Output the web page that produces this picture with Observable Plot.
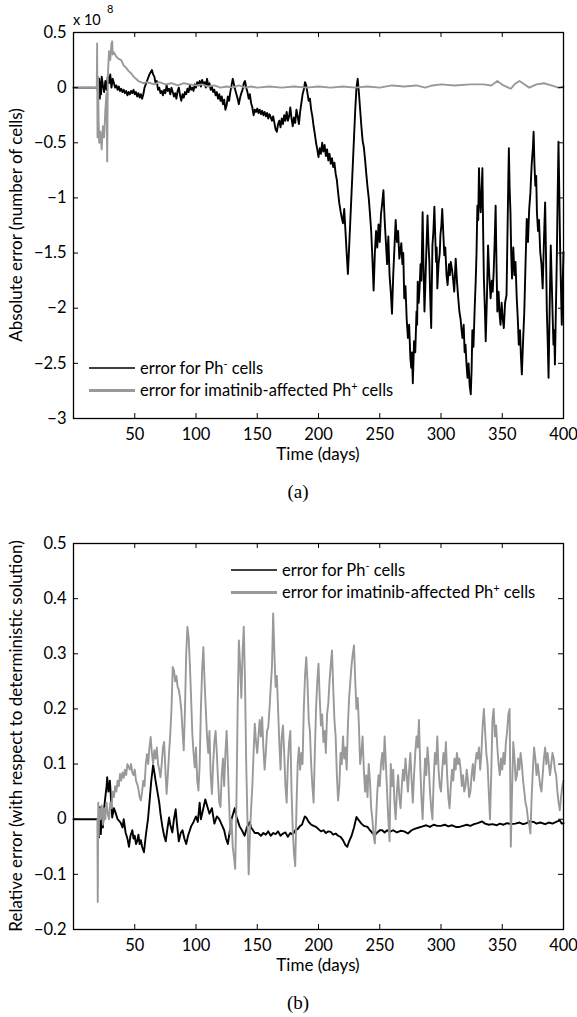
<!DOCTYPE html>
<html><head><meta charset="utf-8">
<script src="https://cdn.jsdelivr.net/npm/d3@7"></script>
<script src="https://cdn.jsdelivr.net/npm/@observablehq/plot@0.6"></script>
<style>
body{margin:0;background:#fff;}
#wrap{position:relative;width:577px;height:1017px;font-family:Lato,sans-serif;background:#fff;}
.panel{position:absolute;left:0;}
.cap{position:absolute;font-family:"Liberation Serif",serif;font-size:19px;transform:translate(-50%,-50%);color:#000;}
</style></head><body><div id="wrap"></div>
<script>
// ---------- data ----------
const xTicks = [50,100,150,200,250,300,350,400];
const yTicksA = [0.5,0,-0.5,-1,-1.5,-2,-2.5,-3];
const yTicksB = [0.5,0.4,0.3,0.2,0.1,0,-0.1,-0.2];

// Panel (a): absolute error, units of 1e8 cells
const absPhMinus = [[0,0],[19.5,0],[20.5,-0.08],[21,0.08],[21.5,-0.1],[22,0.05],[22.5,-0.06],[23,0.1],[24,0.02],[25,-0.04],[26,0.06],[27,-0.02],[28,0.1],[29,0.04],[30,0.12],[31,0.0],[32,0.08],[33,0.04],[34,0.0],[35,0.02],[36,-0.02],[37,0.01],[38,-0.03],[39,-0.01],[40,-0.04],[41,-0.02],[42,-0.05],[43,-0.03],[44,-0.07],[45,-0.04],[46,-0.06],[47,-0.03],[48,-0.05],[49,-0.02],[50,-0.06],[51,-0.04],[52,-0.08],[53,-0.05],[54,-0.09],[55,-0.06],[56,-0.1],[57,-0.06],[58,0.0],[60,0.06],[62,0.12],[64,0.16],[65,0.12],[66,0.1],[67,0.04],[68,0.06],[69,-0.02],[70,0.0],[71,-0.05],[72,-0.03],[73,-0.07],[74,-0.02],[75,-0.05],[76,0.02],[77,-0.03],[78,-0.01],[79,-0.06],[80,0.0],[81,-0.04],[82,-0.08],[83,-0.05],[84,-0.1],[85,-0.03],[86,0.0],[87,-0.07],[88,-0.12],[89,-0.06],[90,-0.09],[91,-0.04],[92,-0.06],[93,-0.01],[94,-0.04],[95,0.02],[96,-0.02],[97,0.0],[98,-0.03],[99,0.03],[100,0.0],[101,0.05],[102,0.02],[103,0.06],[104,0.01],[105,0.07],[106,0.03],[107,0.05],[108,0.0],[109,0.08],[110,0.02],[111,0.04],[112,-0.02],[113,0.01],[114,-0.04],[115,-0.02],[116,-0.07],[117,-0.04],[118,-0.1],[119,-0.06],[120,-0.12],[121,-0.08],[122,-0.15],[123,-0.11],[124,-0.2],[125,-0.16],[126,-0.08],[127,-0.12],[128,-0.04],[129,0.02],[130,0.08],[131,0.03],[132,-0.02],[133,-0.06],[134,-0.1],[135,-0.15],[136,-0.09],[137,-0.05],[138,-0.02],[139,0.04],[140,0.06],[141,0.0],[142,-0.04],[143,-0.1],[144,-0.06],[145,-0.14],[146,-0.18],[147,-0.25],[148,-0.2],[149,-0.22],[150,-0.19],[151,-0.23],[152,-0.2],[153,-0.24],[154,-0.21],[155,-0.25],[156,-0.22],[157,-0.26],[158,-0.23],[159,-0.28],[160,-0.24],[161,-0.27],[162,-0.3],[163,-0.26],[164,-0.32],[165,-0.38],[166,-0.4],[167,-0.33],[168,-0.3],[169,-0.36],[170,-0.28],[171,-0.33],[172,-0.25],[173,-0.3],[174,-0.22],[175,-0.3],[176,-0.26],[177,-0.18],[178,-0.28],[179,-0.35],[180,-0.27],[181,-0.32],[182,-0.2],[183,-0.26],[184,-0.33],[185,-0.22],[186,-0.14],[187,-0.06],[188,-0.02],[189,0.05],[190,0.02],[191,-0.05],[192,-0.12],[193,-0.1],[194,-0.2],[195,-0.26],[196,-0.35],[197,-0.42],[198,-0.5],[199,-0.56],[200,-0.63],[201,-0.55],[202,-0.6],[203,-0.5],[204,-0.58],[205,-0.52],[206,-0.62],[207,-0.56],[208,-0.66],[209,-0.6],[210,-0.69],[211,-0.64],[212,-0.72],[213,-0.68],[214,-0.78],[215,-0.84],[216,-0.95],[217,-1.05],[218,-1.12],[219,-1.18],[220,-1.23],[221,-1.1],[222,-1.3],[223,-1.5],[224,-1.69],[225,-1.45],[226,-1.2],[227,-0.95],[228,-0.7],[229,-0.45],[230,-0.2],[231,0.0],[232,0.08],[233,-0.05],[234,-0.2],[235,-0.35],[236,-0.48],[237,-0.54],[238,-0.65],[239,-0.78],[240,-0.9],[241,-1.0],[242,-1.14],[243,-1.3],[244,-1.55],[245,-1.84],[246,-1.5],[247,-1.3],[248,-1.45],[249,-1.24],[250,-1.4],[251,-1.15],[252,-1.05],[253,-0.93],[254,-1.2],[255,-1.4],[256,-1.6],[257,-1.35],[258,-1.7],[259,-1.85],[260,-2.05],[261,-1.7],[262,-1.45],[263,-1.2],[264,-1.4],[265,-1.3],[266,-1.55],[267.6,-1.41],[268.5,-1.6],[269.2,-1.5],[270,-1.91],[271,-1.8],[272,-2.1],[273,-2.27],[274,-2.15],[275,-2.45],[275.7,-2.54],[276.3,-2.4],[277,-2.68],[278,-2.3],[279,-2.4],[280,-2.03],[280.5,-2.15],[281,-1.76],[281.8,-1.95],[282.5,-1.82],[283.3,-1.6],[284,-1.75],[285,-1.13],[285.7,-1.6],[286.5,-2.03],[287.2,-1.8],[288,-1.49],[289,-1.16],[289.7,-1.4],[290.5,-1.58],[291.2,-1.9],[292,-2.18],[292.5,-1.8],[293,-1.43],[293.8,-1.3],[294.6,-1.08],[295.3,-1.35],[296,-1.58],[296.5,-1.45],[297,-1.82],[298,-1.6],[299,-1.5],[299.5,-1.34],[300.3,-1.25],[301,-1.1],[302,-1.35],[302.7,-1.52],[303.5,-1.45],[304.5,-1.7],[305.4,-1.79],[306.5,-1.6],[307.2,-1.7],[308,-1.58],[309,-1.65],[310,-1.75],[310.8,-1.85],[311.4,-1.7],[312,-1.55],[313,-1.75],[314,-1.9],[315,-2.03],[316,-2.1],[316.8,-2.2],[317.5,-2.27],[318.5,-2.15],[319.3,-2.4],[320,-2.33],[320.8,-2.5],[321.6,-2.63],[322.5,-2.5],[323.4,-2.7],[324.3,-2.78],[325,-2.55],[325.6,-2.2],[326.5,-2.35],[327.5,-2.0],[328.4,-1.73],[329,-1.5],[329.7,-1.07],[330.4,-1.2],[331,-0.73],[331.7,-1.0],[332.4,-1.13],[333.1,-0.95],[333.8,-0.73],[334.4,-1.3],[335,-1.73],[335.8,-2.0],[336.5,-2.3],[337.5,-1.9],[338.4,-1.43],[339.4,-1.7],[340.5,-1.91],[341.5,-1.75],[342.2,-1.85],[343,-1.67],[343.8,-1.4],[344.6,-1.07],[345.3,-1.6],[346,-2.03],[347,-1.85],[347.8,-2.05],[348.6,-2.15],[349.5,-1.95],[350.4,-2.1],[351.3,-2.18],[352.3,-1.95],[353.5,-1.88],[354.3,-1.3],[355,-0.8],[355.4,-0.55],[356,-0.9],[356.7,-1.13],[357.3,-1.5],[358,-1.73],[359,-1.45],[360,-1.7],[360.8,-1.58],[361.8,-1.9],[362.7,-2.1],[363.5,-2.33],[364.5,-2.2],[365.3,-2.45],[366,-2.6],[367,-2.3],[368,-2.03],[369,-1.6],[370,-1.19],[371,-1.4],[372,-1.1],[373,-0.95],[374,-0.7],[375,-0.55],[375.6,-0.4],[376.3,-0.7],[377,-0.89],[377.7,-0.8],[378.3,-1.13],[379.2,-1.3],[380,-1.2],[381,-1.49],[382,-1.6],[383,-1.82],[384,-1.4],[385,-1.04],[385.7,-1.5],[386.4,-2.03],[387.1,-2.3],[387.8,-2.63],[388.7,-2.0],[389.6,-1.43],[390.5,-1.8],[391.2,-2.1],[391.8,-2.33],[392.4,-2.2],[393,-2.51],[393.8,-2.0],[394.5,-1.58],[395.2,-1.0],[395.9,-0.49],[396.5,-0.9],[397.2,-1.43],[397.9,-1.8],[398.6,-2.15],[399.3,-1.8],[400,-1.49]];

const absPhPlus = [[0,0],[19,0],[19.3,0.4],[19.6,-0.45],[20,0.1],[20.5,-0.3],[21,-0.5],[22,-0.4],[23,-0.56],[24,-0.35],[25,-0.45],[26,-0.2],[27,-0.05],[27.5,-0.67],[28,0.1],[29,0.33],[30,0.25],[31,0.4],[31.6,0.42],[32,0.3],[33,0.32],[35,0.28],[37,0.26],[39,0.25],[41,0.2],[43,0.18],[45,0.15],[47,0.13],[49,0.1],[51,0.08],[53,0.06],[55,0.05],[57,0.04],[60,0.05],[63,0.04],[66,0.03],[70,0.05],[75,0.03],[80,0.04],[85,0.02],[90,0.04],[95,0.03],[100,0.02],[105,0.03],[110,0.01],[115,0.02],[120,0.0],[125,0.01],[130,0.0],[135,0.02],[140,0.0],[145,0.01],[150,0.0],[160,0.01],[170,0.0],[180,0.01],[190,0.0],[200,0.01],[210,0.0],[220,0.01],[230,0.0],[240,0.01],[250,0.0],[260,0.02],[270,0.01],[280,0.02],[287,0.0],[293,0.02],[300,0.03],[311,0.02],[324,0.03],[335,0.03],[341,0.02],[346,0.06],[351,0.02],[357,-0.01],[360,0.03],[364,0.06],[368,0.03],[372,0.0],[378,0.03],[384,0.04],[390,0.02],[396,0.0],[400,0.01]];

// Panel (b): relative error
const relPhMinus = [[0,0],[20,0],[20.7,-0.033],[21.5,0.022],[22.3,-0.027],[23.1,0.015],[24,-0.015],[25,0.02],[26,0.04],[27,0.06],[27.5,0.076],[28.5,0.05],[29.7,0.07],[30.8,0.03],[31.6,0.003],[33,0.02],[34.3,0.012],[36,0.0],[38.4,-0.006],[40,-0.015],[41,0.0],[42.5,-0.024],[44,-0.035],[45.3,-0.05],[46.5,-0.03],[48,-0.02],[49,-0.035],[50,-0.03],[51,-0.045],[52,-0.04],[53,-0.028],[54,-0.045],[55,-0.038],[56,-0.05],[57.5,-0.06],[59,-0.03],[60.8,0.0],[62,0.03],[63.5,0.07],[65,0.098],[66,0.085],[67,0.07],[68.5,0.05],[70,0.03],[71,0.01],[72.5,-0.013],[74,-0.03],[75.3,-0.04],[76.5,-0.02],[78,0.003],[79,-0.01],[80.7,-0.024],[82,0.0],[83.4,0.018],[84.5,-0.01],[86,-0.04],[87.5,-0.025],[89,-0.02],[90.5,-0.035],[92,-0.045],[93.5,-0.03],[95,-0.02],[96,-0.013],[98,-0.005],[100,0.005],[101.5,-0.005],[103,0.03],[104,0.0],[105.5,0.015],[107.6,0.036],[109,0.025],[111,0.01],[113,0.02],[115,-0.008],[117,0.005],[119,0.0],[121,-0.01],[123,-0.02],[124.5,-0.035],[126,-0.045],[127,-0.03],[129,0.0],[131.6,0.02],[133,0.005],[135.6,-0.013],[137.5,-0.02],[139.7,-0.03],[141.5,-0.015],[143.8,-0.005],[145,-0.015],[146.5,-0.02],[148,-0.025],[150.6,-0.025],[153,-0.03],[155,-0.025],[157,-0.028],[159,-0.022],[161,-0.03],[163,-0.025],[165,-0.027],[167,-0.022],[169,-0.03],[171,-0.026],[173,-0.024],[175,-0.032],[177,-0.025],[179,-0.028],[181,-0.02],[183,-0.018],[185,-0.012],[186.5,-0.01],[188.8,0.005],[190,0.003],[192,-0.005],[194,-0.01],[196,-0.012],[198,-0.014],[200,-0.018],[202,-0.022],[204,-0.02],[206,-0.025],[208,-0.022],[210,-0.023],[212,-0.028],[214,-0.026],[216,-0.03],[218,-0.032],[220,-0.038],[222,-0.047],[223.5,-0.05],[225,-0.04],[227,-0.03],[229,-0.015],[231,0.004],[233,-0.002],[235,-0.008],[237,-0.012],[240,-0.014],[242,-0.02],[244,-0.025],[246,-0.029],[248,-0.024],[250,-0.02],[252,-0.02],[254,-0.024],[256,-0.02],[258,-0.023],[261,-0.02],[264,-0.024],[267,-0.021],[270,-0.022],[273,-0.026],[276,-0.02],[279,-0.017],[282,-0.015],[285,-0.013],[288,-0.011],[291,-0.014],[294,-0.01],[297,-0.012],[300,-0.012],[303,-0.01],[306,-0.013],[309,-0.011],[312,-0.014],[315,-0.014],[318,-0.012],[321,-0.01],[324,-0.012],[327,-0.009],[330,-0.007],[333.6,-0.004],[336,-0.008],[339,-0.01],[342,-0.009],[345.6,-0.011],[348,-0.008],[351,-0.01],[354,-0.007],[357,-0.009],[360.7,-0.008],[364,-0.006],[367,-0.009],[370,-0.007],[372,-0.004],[375.8,-0.005],[378,-0.008],[381,-0.006],[385,-0.009],[388,-0.006],[391,-0.008],[394,-0.005],[397,-0.002],[398.5,-0.008],[400,-0.007]];

const relPhPlus = [[19.5,0],[19.8,-0.15],[20.2,0.03],[20.6,-0.03],[21,0.02],[22,0.0],[23,0.025],[24,-0.01],[25,0.02],[26,0.0],[27,0.03],[28,0.01],[29,0.0],[30,0.03],[31,0.02],[32,0.05],[33,0.04],[34,0.06],[35,0.05],[36,0.07],[37,0.06],[38,0.082],[39,0.07],[40,0.085],[41,0.075],[42,0.09],[43,0.08],[44,0.1],[45,0.095],[46,0.09],[47,0.1],[48,0.085],[49,0.08],[50,0.09],[51,0.07],[52,0.064],[53,0.055],[54,0.04],[55,0.034],[56,0.05],[57,0.07],[58,0.06],[59,0.1],[60,0.118],[61,0.1],[62,0.13],[63,0.149],[64,0.12],[65,0.1],[66,0.125],[67,0.11],[68,0.13],[69,0.1],[70,0.09],[71,0.076],[72,0.1],[73,0.13],[74,0.14],[75,0.09],[76,0.046],[77,0.08],[78,0.12],[79,0.155],[80,0.2],[81,0.276],[82,0.27],[83,0.25],[84,0.26],[85,0.24],[86,0.234],[87,0.22],[88,0.198],[89,0.16],[90,0.125],[91,0.2],[92,0.3],[93,0.349],[94,0.33],[95,0.28],[96,0.22],[97,0.155],[98,0.12],[99,0.094],[100,0.13],[101,0.07],[102,0.052],[103,0.1],[104,0.2],[105,0.27],[106,0.312],[107,0.25],[108,0.2],[109,0.15],[110,0.12],[111,0.16],[112,0.08],[113,0.046],[114,0.1],[115,0.14],[116,0.16],[117,0.12],[118,0.07],[119,0.03],[120,0.022],[121,0.08],[122,0.11],[123,0.06],[124,0.12],[125,0.16],[126,0.1],[127,0.03],[128,-0.027],[129,0.0],[130,-0.05],[131,-0.069],[132,-0.09],[133,0.03],[134,0.2],[135,0.324],[136,0.28],[137,0.22],[138,0.3],[139,0.349],[140,0.25],[141,0.1],[142,0.0],[143,-0.1],[144,-0.03],[145,0.02],[146,0.06],[147,0.12],[148,0.173],[149,0.14],[150,0.12],[151,0.15],[152,0.18],[153,0.15],[154,0.185],[155,0.13],[156,0.09],[157,0.12],[158,0.16],[159,0.167],[160,0.2],[161,0.24],[162,0.276],[163,0.373],[164,0.3],[165,0.24],[166,0.26],[167,0.2],[168,0.14],[169,0.09],[170,0.15],[171,0.17],[172,0.12],[173,0.06],[174,0.03],[175,0.1],[176,0.14],[177,0.16],[178,0.05],[179,-0.02],[180,-0.063],[181,-0.085],[182,0.02],[183,0.1],[184,0.13],[185,0.09],[186,0.12],[187,0.1],[188,0.2],[189,0.26],[190,0.294],[191,0.25],[192,0.18],[193,0.16],[194,0.1],[195,0.06],[196,0.03],[197,0.12],[198,0.2],[199,0.25],[200,0.282],[201,0.22],[202,0.17],[203,0.19],[204,0.14],[205,0.16],[206,0.12],[207,0.19],[208,0.21],[209,0.25],[210,0.28],[211,0.306],[212,0.24],[213,0.18],[214,0.15],[215,0.08],[216,0.034],[217,0.06],[218,0.12],[219,0.1],[220,0.15],[221,0.11],[222,0.13],[223,0.09],[224,0.17],[225,0.22],[226,0.25],[227,0.28],[228,0.3],[229,0.315],[230,0.25],[231,0.2],[232,0.22],[233,0.17],[234,0.1],[235,0.12],[236,0.15],[237,0.09],[238,0.05],[239,0.08],[240,0.04],[241,0.1],[242,0.07],[243,0.02],[244,0.0],[245,-0.03],[246,-0.044],[247,0.0],[248,0.05],[249,0.08],[250,0.06],[251,0.1],[252,0.12],[253,0.09],[254,0.15],[255,0.1],[256,0.05],[257,0.0],[258,-0.04],[259,0.1],[260,0.06],[261,0.09],[262,0.03],[263,0.0],[264,0.05],[265,0.08],[266,0.04],[267,0.02],[268,0.06],[269,0.09],[270,0.07],[271,0.11],[272,0.08],[273,0.05],[274,0.09],[275,0.12],[276,0.07],[277,0.03],[278,0.08],[279,0.12],[280,0.15],[281,0.13],[282,0.18],[283,0.1],[284,0.04],[285,0.0],[286,0.06],[287,0.11],[288,0.08],[289,0.13],[290,0.1],[291,0.05],[292,0.02],[293,0.0],[294,0.07],[295,0.12],[296,0.1],[297,0.15],[298,0.09],[299,0.06],[300,0.05],[301,0.09],[302,0.12],[303,0.1],[304,0.14],[305,0.08],[306,0.04],[307,0.02],[308,0.06],[309,0.09],[310,0.07],[311,0.11],[312,0.09],[313,0.12],[314,0.1],[315,0.11],[316,0.09],[317,0.06],[318,0.08],[319,0.05],[320,0.06],[321,0.09],[322,0.07],[323,0.04],[324,0.05],[325,0.08],[326,0.1],[327,0.07],[328,0.1],[329,0.12],[330,0.11],[331,0.13],[332,0.09],[333,0.12],[334,0.17],[335,0.2],[336,0.16],[337,0.12],[338,0.1],[339,0.05],[340,0.0],[341,0.08],[342,0.18],[343,0.2],[344,0.15],[345,0.17],[346,0.13],[347,0.1],[348,0.08],[349,0.11],[350,0.09],[351,0.12],[352,0.1],[353,0.14],[354,0.16],[355,0.19],[356,0.2],[357,-0.05],[358,0.05],[359,0.14],[360,0.11],[361,0.07],[362,0.08],[363,0.11],[364,0.09],[365,0.12],[366,0.1],[367,0.07],[368,0.05],[369,0.03],[370,0.02],[371,0.0],[372,-0.01],[373,-0.026],[374,0.04],[375,0.09],[376,0.13],[377,0.11],[378,0.08],[379,0.1],[380,0.08],[381,0.06],[382,0.05],[383,0.08],[384,0.11],[385,0.13],[386,0.1],[387,0.12],[388,0.1],[389,0.08],[390,0.1],[391,0.12],[392,0.11],[393,0.09],[394,0.08],[395,0.05],[396,0.03],[397,0.016],[398,0.04],[399,0.06],[400,0.07]];

const legendLabels = [["error for Ph", "-", " cells"], ["error for imatinib-affected Ph", "+", " cells"]];
const xLabel = "Time (days)";
const yLabelA = "Absolute error (number of cells)";
const yLabelB = "Relative error (with respect to deterministic solution)";

// ---------- drawing ----------
const GRAY = "#999999";
const FW = 490, FH = 386;
const fmt = d => d < 0 ? "\u2212" + Math.abs(d) : String(d);

function panel({black, gray, yDomain, yTicks, marginTop, height, yLabel, legend}) {
  const svgEl = Plot.plot({
    width: 577, height, marginLeft: 73, marginRight: 14, marginTop, marginBottom: 52,
    x: {domain: [0, 400]},
    y: {domain: yDomain},
    style: {fontFamily: "Lato, sans-serif", fontSize: "16.5px", color: "#000", background: "#fff", overflow: "visible"},
    marks: [
      Plot.line(black, {x: d => d[0], y: d => d[1], stroke: "#000", strokeWidth: 1.9, curve: "linear"}),
      Plot.line(gray, {x: d => d[0], y: d => d[1], stroke: GRAY, strokeWidth: 1.9, curve: "linear"}),
      Plot.tickX(xTicks, {x: d => d, insetTop: FH - 5, stroke: "#000", strokeWidth: 1}),
      Plot.tickX(xTicks, {x: d => d, insetBottom: FH - 5, stroke: "#000", strokeWidth: 1}),
      Plot.tickY(yTicks, {y: d => d, insetRight: FW - 5, stroke: "#000", strokeWidth: 1}),
      Plot.tickY(yTicks, {y: d => d, insetLeft: FW - 5, stroke: "#000", strokeWidth: 1}),
      Plot.frame({stroke: "#000", strokeWidth: 1.3}),
      Plot.axisX({ticks: xTicks, tickSize: 0, tickPadding: 10, label: null, tickFormat: fmt}),
      Plot.axisY({ticks: yTicks, tickSize: 0, tickPadding: 7, label: null, tickFormat: fmt})
    ]
  });
  const svg = d3.select(svgEl);
  const frameBottom = height - 52;
  // x label
  svg.append("text").attr("x", 318).attr("y", frameBottom + 36).attr("text-anchor", "middle")
    .attr("dy", "0.35em").attr("font-size", 17).attr("fill", "#000").text(xLabel);
  // y label
  svg.append("text").attr("transform", `translate(16,${marginTop + FH / 2}) rotate(-90)`)
    .attr("text-anchor", "middle").attr("dy", "0.35em").attr("font-size", 17).attr("fill", "#000").text(yLabel);
  // legend
  legend.rows.forEach((row, i) => {
    const y = legend.y + i * 22.5;
    svg.append("line").attr("x1", legend.x1).attr("x2", legend.x2).attr("y1", y).attr("y2", y)
      .attr("stroke", i === 0 ? "#000" : GRAY).attr("stroke-width", i === 0 ? 1.3 : 3.2);
    const t = svg.append("text").attr("x", legend.x2 + 5).attr("y", y).attr("dy", "0.35em")
      .attr("text-anchor", "start").attr("font-size", 16.5).attr("fill", "#000");
    t.append("tspan").text(row[0]);
    t.append("tspan").attr("dy", -6).attr("font-size", 11).text(row[1]);
    t.append("tspan").attr("dy", 6).text(row[2]);
  });
  return svg;
}

const wrap = document.getElementById("wrap");

const svgA = panel({black: absPhMinus, gray: absPhPlus, yDomain: [-3, 0.5], yTicks: yTicksA,
  marginTop: 32, height: 470, yLabel: yLabelA,
  legend: {rows: legendLabels, x1: 89, x2: 135, y: 368}});
svgA.append("text").attr("x", 73).attr("y", 20).attr("dy", "0.35em").attr("text-anchor", "start")
  .attr("font-size", 14.5).attr("fill", "#000").text("x 10");
svgA.append("text").attr("x", 107).attr("y", 9).attr("dy", "0.35em").attr("text-anchor", "start")
  .attr("font-size", 11).attr("fill", "#000").text("8");
const nodeA = svgA.node(); nodeA.classList.add("panel"); nodeA.style.top = "0px";
wrap.appendChild(nodeA);

const svgB = panel({black: relPhMinus, gray: relPhPlus, yDomain: [-0.2, 0.5], yTicks: yTicksB,
  marginTop: 23, height: 461, yLabel: yLabelB,
  legend: {rows: legendLabels, x1: 231, x2: 277, y: 50}});
const nodeB = svgB.node(); nodeB.classList.add("panel"); nodeB.style.top = "520px";
wrap.appendChild(nodeB);

for (const [txt, y] of [["(a)", 492], ["(b)", 1003]]) {
  const d = document.createElement("div");
  d.className = "cap"; d.textContent = txt;
  d.style.left = "298px"; d.style.top = y + "px";
  wrap.appendChild(d);
}
</script>
</body></html>
